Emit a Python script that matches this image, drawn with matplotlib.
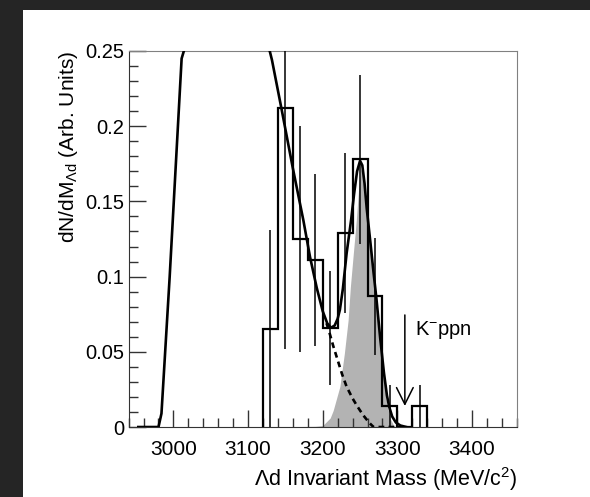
import matplotlib
matplotlib.use("Agg")
import matplotlib.pyplot as plt
import numpy as np
from matplotlib.patches import Rectangle
from matplotlib.ticker import MultipleLocator, FuncFormatter

plt.rcParams["font.family"] = ["Liberation Sans", "DejaVu Sans"]
plt.rcParams["mathtext.default"] = "regular"

# Lambda-d invariant mass histogram (20 MeV bins)
bin_edges = [3120, 3140, 3160, 3180, 3200, 3220, 3240, 3260, 3280, 3300, 3320, 3340]
counts = [0.065, 0.212, 0.125, 0.111, 0.066, 0.129, 0.178, 0.087, 0.014, 0.0, 0.014]
count_err = [0.066, 0.16, 0.075, 0.057, 0.038, 0.053, 0.056, 0.039, 0.014, 0.0, 0.014]

# total fit curve
fit_mass = [2953, 2980, 2984, 2995, 3011, 3014, 3018, 3030, 3110, 3124, 3129, 3132,
            3145, 3160, 3174, 3183, 3192, 3200, 3206, 3211, 3216, 3220, 3223, 3227,
            3232, 3238, 3242, 3246, 3250, 3253, 3256, 3259, 3264, 3268, 3272, 3277,
            3282, 3286, 3289, 3293, 3298, 3304, 3312]
fit_dndm = [0, 0, 0.009, 0.10, 0.245, 0.25, 0.256, 0.27, 0.27, 0.256, 0.25, 0.244,
            0.211, 0.172, 0.1376, 0.113, 0.0925, 0.077, 0.069, 0.066, 0.0675, 0.072, 0.078, 0.092,
            0.1155, 0.1376, 0.155, 0.170, 0.177, 0.174, 0.162, 0.145, 0.122, 0.103, 0.085, 0.059,
            0.036, 0.021, 0.0135, 0.007, 0.003, 0.001, 0]

# background component (dashed)
bg_mass = [3205, 3208, 3214, 3220, 3226, 3232, 3240, 3246, 3254, 3262, 3268, 3300]
bg_dndm = [0.069, 0.0645, 0.054, 0.0445, 0.035, 0.0268, 0.019, 0.014, 0.008, 0.003, 0.0, 0.0]

# signal component (shaded)
sig_mass = [3130, 3190, 3200, 3210, 3214, 3223, 3229, 3234, 3237, 3241, 3245, 3248,
            3251, 3255, 3258, 3264, 3270, 3276, 3281, 3285, 3290, 3296]
sig_dndm = [0, 0.0005, 0.001, 0.006, 0.011, 0.027, 0.049, 0.071, 0.093, 0.1155, 0.1376, 0.158,
            0.172, 0.165, 0.145, 0.120, 0.087, 0.058, 0.036, 0.018, 0.006, 0]

# K- p p n threshold marker
kppn_mass = 3310
kppn_arrow_top = 0.0745
kppn_arrow_tip = 0.014

fig = plt.figure(figsize=(5.9, 4.97), dpi=100, facecolor="#252525")
fig.patches.append(Rectangle((23 / 590, 0), 1 - 23 / 590, 1 - 10 / 497,
                             transform=fig.transFigure, facecolor="white",
                             edgecolor="none", zorder=-10))
ax = fig.add_axes([0.218, 0.1408, 0.658, 0.7566])

ax.fill_between(sig_mass, sig_dndm, color="#b3b3b3", lw=0, zorder=1)
ax.plot(bg_mass, bg_dndm, color="black", lw=1.9, ls=(0, (2.2, 1.6)), zorder=2)

ax.stairs(counts, bin_edges, baseline=0, color="black", lw=1.6, zorder=3)
centers = 0.5 * (np.array(bin_edges[:-1]) + np.array(bin_edges[1:]))
cnt = np.array(counts)
err = np.array(count_err)
m = err > 0
ax.errorbar(centers[m], cnt[m], yerr=err[m], fmt="none", ecolor="black",
            elinewidth=1.1, capsize=0, zorder=3)

ax.plot(fit_mass, fit_dndm, color="black", lw=1.9, zorder=4)

ax.annotate("", xy=(kppn_mass, kppn_arrow_tip), xytext=(kppn_mass, kppn_arrow_top),
            arrowprops=dict(arrowstyle="->,head_length=1.2,head_width=0.6",
                            lw=1.1, color="black", shrinkA=0, shrinkB=0))
ax.text(kppn_mass + 13, 0.0612, "K$^{-}$ppn", fontsize=14.5, ha="left",
        va="baseline")

ax.set_xlim(2940, 3460)
ax.set_ylim(0, 0.25)
ax.xaxis.set_major_locator(MultipleLocator(100))
ax.xaxis.set_minor_locator(MultipleLocator(20))
ax.yaxis.set_major_locator(MultipleLocator(0.05))
ax.yaxis.set_minor_locator(MultipleLocator(0.01))
ax.yaxis.set_major_formatter(FuncFormatter(lambda v, p: "%g" % round(v, 3)))

ax.tick_params(which="both", direction="in", color="#333333", width=1,
               top=False, right=False)
ax.tick_params(which="major", length=12)
ax.tick_params(which="minor", length=6.5)
ax.tick_params(axis="x", labelsize=15, pad=9)
ax.tick_params(axis="y", labelsize=14.5, pad=3)

for side in ("left", "bottom"):
    ax.spines[side].set_color("#333333")
for side in ("top", "right"):
    ax.spines[side].set_color("#808080")

ax.set_xlabel("Λd Invariant Mass (MeV/c$^{2}$)", fontsize=15.5, loc="right")
ax.xaxis.set_label_coords(1.0, -0.1)
ax.set_ylabel("dN/dM$_{Λd}$ (Arb. Units)", fontsize=15, loc="top")
ax.yaxis.set_label_coords(-0.125, 1.0)

fig.savefig("out.png", dpi=100, facecolor=fig.get_facecolor())
